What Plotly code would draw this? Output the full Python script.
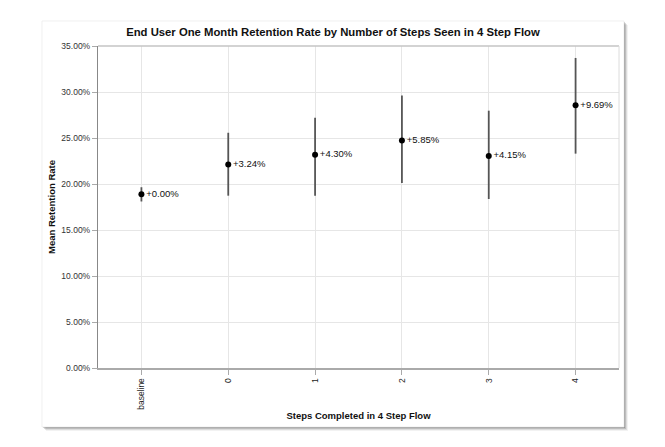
import plotly.graph_objects as go

# values
steps = ["baseline", "0", "1", "2", "3", "4"]
mean_rate = [0.1888, 0.2212, 0.2318, 0.2473, 0.2303, 0.2857]
ci_upper = [0.1965, 0.2557, 0.2720, 0.2962, 0.2797, 0.3370]
ci_lower = [0.1810, 0.1873, 0.1873, 0.2010, 0.1837, 0.2330]
lift_labels = ["+0.00%", "+3.24%", "+4.30%", "+5.85%", "+4.15%", "+9.69%"]

# the page puts the figure 8px in from the corner, so work in shifted pixels
OFF = 8
W, H = 665 - OFF, 447 - OFF
L, R, T, B = 98 - OFF, 619 - OFF, 46 - OFF, 368 - OFF


def px(x):
    return (x - OFF - L) / (R - L)


def py(y):
    return (B - (y - OFF)) / (B - T)


err_plus = [u - m for u, m in zip(ci_upper, mean_rate)]
err_minus = [m - lo for m, lo in zip(mean_rate, ci_lower)]

fig = go.Figure()
fig.add_trace(go.Scatter(
    x=steps, y=mean_rate,
    mode='markers+text',
    text=lift_labels,
    textposition='middle right',
    textfont=dict(family='Liberation Sans, Arial, sans-serif', size=9.5, color='#111'),
    marker=dict(color='black', size=6),
    error_y=dict(type='data', symmetric=False, array=err_plus, arrayminus=err_minus,
                 width=0, thickness=1.8, color='#555'),
    cliponaxis=False,
    showlegend=False,
))

# card with soft shadow
shapes = []
for off, op in [(4, 0.05), (3, 0.09), (2, 0.14), (1, 0.2)]:
    shapes.append(dict(type='rect', xref='paper', yref='paper', layer='below',
                       x0=px(42 + off), x1=px(624 + off), y0=py(427 + off), y1=py(21 + off),
                       line=dict(width=0), fillcolor=f'rgba(0,0,0,{op})'))
shapes.append(dict(type='rect', xref='paper', yref='paper', layer='below',
                   x0=px(42), x1=px(624), y0=py(427), y1=py(21),
                   line=dict(width=0.6, color='#e6e6e6'), fillcolor='white'))
# top and right borders of plot area
shapes.append(dict(type='line', xref='paper', yref='paper', x0=0, x1=1, y0=1, y1=1,
                   line=dict(color='#c4c4c4', width=1.5)))
shapes.append(dict(type='line', xref='paper', yref='paper', x0=1, x1=1, y0=0, y1=1,
                   line=dict(color='#dcdcdc', width=1)))

fig.update_layout(
    width=W, height=H,
    margin=dict(l=L, r=W - R, t=T, b=H - B, pad=0),
    paper_bgcolor='white', plot_bgcolor='rgba(0,0,0,0)',
    font=dict(family='Liberation Sans, Arial, sans-serif', color='#333'),
    title=dict(text='<b>End User One Month Retention Rate by Number of Steps Seen in 4 Step Flow</b>',
               xref='paper', x=px(333), xanchor='center', y=1 - (32 - OFF) / H, yanchor='middle',
               font=dict(size=11.3, color='#111')),
    shapes=shapes,
    xaxis=dict(type='category', categoryorder='array', categoryarray=steps,
               range=[-0.5, 5.5], tickangle=-90,
               showgrid=True, gridcolor='#e6e6e6', gridwidth=1,
               showline=True, linecolor='#aaaaaa', linewidth=1.5,
               ticks='outside', ticklen=5, tickcolor='#aaaaaa',
               tickfont=dict(size=8.5, color='#222'),
               title=dict(text='<b>Steps Completed in 4 Step Flow</b>', standoff=4,
                          font=dict(size=9.5, color='#111'))),
    yaxis=dict(range=[0, 0.35], dtick=0.05, tickformat='.2%',
               showgrid=True, gridcolor='#e6e6e6', gridwidth=1,
               showline=True, linecolor='#888888', linewidth=1.2,
               ticks='outside', ticklen=5, tickcolor='#aaaaaa',
               tickfont=dict(size=8.5, color='#333'), zeroline=False,
               title=dict(text='<b>Mean Retention Rate</b>', standoff=4,
                          font=dict(size=9.5, color='#111'))),
)

fig.write_html("out.html")
